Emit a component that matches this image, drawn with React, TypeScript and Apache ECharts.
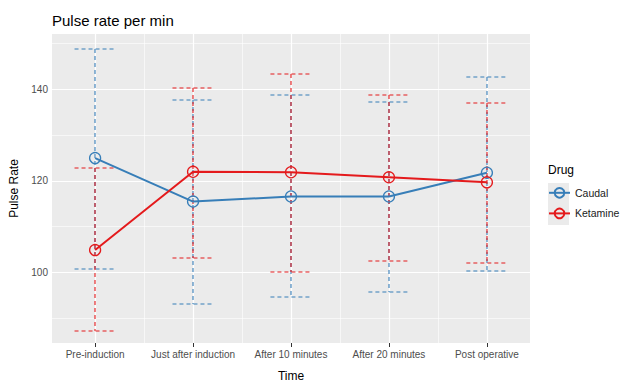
import React, { useEffect, useRef } from "react";
import * as echarts from "echarts";

const categories = ["Pre-induction", "Just after induction", "After 10 minutes", "After 20 minutes", "Post operative"];
const caudalMean = [125.0, 115.5, 116.6, 116.6, 121.8];
const caudalLow = [100.7, 93.2, 94.7, 95.8, 100.4];
const caudalHigh = [148.8, 137.7, 138.7, 137.2, 142.8];
const ketamineMean = [104.9, 122.0, 121.9, 120.8, 119.7];
const ketamineLow = [87.3, 103.2, 100.2, 102.5, 102.1];
const ketamineHigh = [122.9, 140.4, 143.3, 138.8, 137.0];
const yMajor = [100, 120, 140];
const yMinor = [90, 110, 130, 150];
const xMinor = [0.5, 1.5, 2.5, 3.5];

const BLUE = "#377EB8";
const RED = "#E41A1C";
const CAP = 0.21;
const FONT = "Liberation Sans, Arial, sans-serif";

const snap = (v: number) => Math.round(v);

function errorSeries(name: string, color: string, lo: number[], hi: number[]) {
  return {
    type: "custom",
    name,
    z: 3,
    silent: true,
    itemStyle: { color },
    data: categories.map((_, i) => [i, lo[i], hi[i]]),
    encode: { x: 0, y: [1, 2] },
    renderItem: (params: any, api: any) => {
      const x = api.value(0);
      const l = api.value(1);
      const h = api.value(2);
      const top = api.coord([x, h]);
      const bot = api.coord([x, l]);
      const tl = api.coord([x - CAP, h]);
      const tr = api.coord([x + CAP, h]);
      const bl = api.coord([x - CAP, l]);
      const br = api.coord([x + CAP, l]);
      const cx = snap(top[0]);
      const yt = snap(top[1]);
      const yb = snap(bot[1]);
      const mk = () => ({ stroke: color, lineWidth: 1.1, lineDash: [4, 3], fill: "none" });
      return {
        type: "group",
        children: [
          { type: "line", shape: { x1: cx, y1: yt, x2: cx, y2: yb }, style: mk() },
          { type: "line", shape: { x1: tl[0], y1: yt, x2: tr[0], y2: yt }, style: mk() },
          { type: "line", shape: { x1: bl[0], y1: yb, x2: br[0], y2: yb }, style: mk() },
        ],
      };
    },
  };
}

function lineSeries(name: string, color: string, vals: number[]) {
  return {
    type: "line",
    name,
    z: 4,
    data: vals.map((v, i) => [i, v]),
    symbol: "circle",
    symbolSize: 11,
    showSymbol: true,
    lineStyle: { color, width: 2 },
    itemStyle: { color: "rgba(0,0,0,0)", borderColor: color, borderWidth: 1.3 },
    emphasis: { disabled: true },
  };
}

export default function App() {
  const ref = useRef<HTMLDivElement>(null);
  useEffect(() => {
    if (!ref.current) return;
    const chart = echarts.init(ref.current, null, { renderer: "svg" });
    const gridLine = (w: number) => ({ color: "#FFFFFF", width: w, type: "solid" });
    chart.setOption({
      animation: false,
      backgroundColor: "#FFFFFF",
      textStyle: { fontFamily: FONT },
      title: {
        text: "Pulse rate per min",
        left: 47,
        top: 8,
        textStyle: { fontSize: 15, fontWeight: "normal", color: "#000000", fontFamily: FONT },
      },
      grid: {
        left: 52,
        top: 34,
        right: 94,
        bottom: 34,
        show: true,
        backgroundColor: "#EBEBEB",
        borderWidth: 0,
      },
      xAxis: {
        type: "value",
        min: -0.44,
        max: 4.44,
        name: "Time",
        nameLocation: "middle",
        nameGap: 27,
        nameTextStyle: { fontSize: 12, color: "#000000", fontFamily: FONT },
        axisLine: { show: false },
        splitLine: { show: false },
        axisTick: { show: true, length: 4, lineStyle: { color: "#333333" }, customValues: [0, 1, 2, 3, 4] },
        axisLabel: {
          customValues: [0, 1, 2, 3, 4],
          formatter: (v: number) => categories[Math.round(v)] ?? "",
          color: "#4D4D4D",
          fontSize: 10,
          margin: 6,
          fontFamily: FONT,
        },
      },
      yAxis: {
        type: "value",
        min: 84.6,
        max: 152.1,
        name: "Pulse Rate",
        nameLocation: "middle",
        nameGap: 28,
        nameTextStyle: { fontSize: 12, color: "#000000", fontFamily: FONT },
        axisLine: { show: false },
        splitLine: { show: false },
        axisTick: { show: true, length: 4, lineStyle: { color: "#333333" }, customValues: yMajor },
        axisLabel: { customValues: yMajor, color: "#4D4D4D", fontSize: 10, margin: 4, fontFamily: FONT },
      },
      legend: {
        data: ["Caudal", "Ketamine"],
        orient: "vertical",
        left: 548,
        top: 187,
        itemWidth: 21,
        itemHeight: 12,
        itemGap: 9,
        padding: 0,
        selectedMode: false,
        textStyle: { fontSize: 10.5, color: "#1A1A1A", fontFamily: FONT },
      },
      graphic: [
        { type: "text", left: 548, top: 164, style: { text: "Drug", fontSize: 12, fill: "#000000", fontFamily: FONT } },
        { type: "rect", left: 548, top: 183, shape: { width: 21, height: 21 }, style: { fill: "#EBEBEB" }, z: -1 },
        { type: "rect", left: 548, top: 204, shape: { width: 21, height: 21 }, style: { fill: "#EBEBEB" }, z: -1 },
      ],
      series: [
        {
          type: "line",
          name: "grid",
          z: 1,
          data: [],
          silent: true,
          markLine: {
            z: 1,
            silent: true,
            symbol: ["none", "none"],
            label: { show: false },
            data: [
              ...yMinor.map((v) => ({ yAxis: v, lineStyle: gridLine(0.6) })),
              ...yMajor.map((v) => ({ yAxis: v, lineStyle: gridLine(1.2) })),
              ...xMinor.map((v) => ({ xAxis: v, lineStyle: gridLine(0.6) })),
              ...categories.map((_, i) => ({ xAxis: i, lineStyle: gridLine(1.2) })),
            ],
          },
        },
        errorSeries("CaudalErr", BLUE, caudalLow, caudalHigh),
        errorSeries("KetamineErr", RED, ketamineLow, ketamineHigh),
        lineSeries("Caudal", BLUE, caudalMean),
        lineSeries("Ketamine", RED, ketamineMean),
      ],
    });
    return () => chart.dispose();
  }, []);
  return <div ref={ref} style={{ width: 624, height: 387, position: "absolute", left: 0, top: 0 }} />;
}
